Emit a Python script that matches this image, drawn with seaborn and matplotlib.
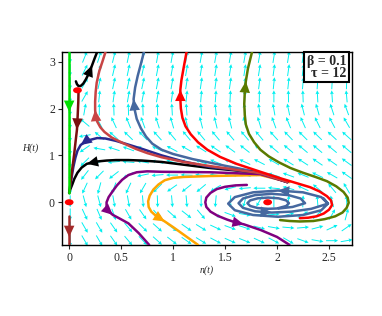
import matplotlib
matplotlib.use('Agg')
import matplotlib.pyplot as plt
from matplotlib.path import Path
from matplotlib.transforms import Affine2D
import numpy as np
import pandas as pd
import seaborn as sns

# direction field: grid positions and arrow angles (screen degrees)
field_n = [0.01, 0.15, 0.29, 0.43, 0.57, 0.71, 0.85, 0.99, 1.13, 1.27,
           1.41, 1.55, 1.69, 1.83, 1.97, 2.11, 2.25, 2.39, 2.53, 2.67]
field_H = [3.10, 2.82, 2.54, 2.26, 1.98, 1.70, 1.42, 1.14, 0.86, 0.58,
           0.30, 0.02, -0.26, -0.54, -0.82]
field_angle = [
    [270, 68, 72, 76, 78, 79, 80, 80, 80, 80, 80, 80, 80, 80, 81, 81, 82, 82, 83, 83],
    [270, 64, 73, 77, 78, 78, 79, 80, 80, 81, 81, 81, 81, 81, 82, 82, 83, 83, 84, 84],
    [270, 60, 77, 78, 78, 78, 79, 80, 81, 82, 82, 82, 83, 83, 84, 84, 85, 86, 87, 88],
    [270, 60, 84, 82, 80, 79, 80, 82, 84, 85, 86, 87, 88, 89, 90, 91, 92, 93, 94, 95],
    [270, 80, 90, 92, 92, 92, 92, 93, 94, 95, 96, 97, 98, 99, 100, 102, 104, 106, 108, 110],
    [270, 140, 118, 115, 112, 110, 108, 106, 104, 104, 104, 104, 105, 107, 110, 112, 114, 116, 118, 120],
    [270, 190, 140, 138, 136, 134, 132, 130, 130, 130, 130, 130, 130, 130, 132, 134, 135, 136, 137, 138],
    [270, 215, 170, 162, 160, 158, 156, 152, 150, 148, 146, 144, 142, 140, 140, 140, 140, 140, 140, 140],
    [270, 225, 195, 185, 175, 170, 166, 164, 162, 160, 158, 156, 155, 153, 150, 148, 147, 146, 145, 144],
    [270, 232, 225, 218, 208, 192, 185, 180, 178, 175, 172, 170, 168, 166, 163, 160, 158, 155, 150, 145],
    [270, 245, 255, 250, 245, 240, 225, 215, 218, 220, 210, 195, 185, 180, 175, 165, 155, 140, 130, 120],
    [270, 285, 285, 280, 280, 275, 272, 275, 275, 270, 265, 265, 255, 240, 90, 85, 88, 95, 105, 95],
    [270, 295, 293, 290, 300, 305, 312, 318, 322, 310, 330, 340, 350, 0, 5, 15, 30, 45, 60, 75],
    [270, 300, 300, 305, 310, 315, 318, 322, 325, 328, 335, 340, 342, 345, 350, 355, 5, 15, 25, 35],
    [270, 300, 300, 305, 310, 313, 318, 322, 325, 328, 332, 336, 338, 335, 332, 330, 340, 350, 0, 10],
]

# trajectories (n, H) in direction of travel
green_n = [0.0, 0.0, 0.0]
green_H = [3.21, 1.93, 0.2]
brown_n = [0.0, 0.0, 0.0]
brown_H = [-0.3, -0.74, -0.91]
maroon_n = [0.09, 0.088, 0.082, 0.075, 0.062, 0.048, 0.032, 0.018, 0.007, 0.0]
maroon_H = [2.36, 2.15, 1.85, 1.55, 1.3, 1.02, 0.75, 0.5, 0.3, 0.2]
hook_n = [0.065, 0.075, 0.09, 0.11, 0.135, 0.16, 0.19, 0.22, 0.245, 0.27]
hook_H = [2.58, 2.52, 2.48, 2.48, 2.53, 2.62, 2.75, 2.92, 3.07, 3.21]
indred_n = [2.1, 1.84, 1.36, 1.1, 0.89, 0.75, 0.64, 0.52, 0.41, 0.34, 0.3, 0.27, 0.255,
            0.25, 0.25, 0.255, 0.265, 0.29, 0.32, 0.35]
indred_H = [0.43, 0.62, 0.77, 0.86, 0.96, 1.05, 1.14, 1.26, 1.38, 1.5, 1.6, 1.72, 1.84,
            1.97, 2.15, 2.35, 2.55, 2.8, 3.0, 3.21]
navy_n = [2.1, 1.84, 1.36, 1.1, 0.89, 0.7, 0.57, 0.45, 0.35, 0.27, 0.2, 0.14, 0.11, 0.08,
          0.06, 0.04, 0.025, 0.012, 0.0]
navy_H = [0.43, 0.63, 0.75, 0.87, 1.0, 1.14, 1.23, 1.31, 1.36, 1.37, 1.33, 1.27, 1.22, 1.1,
          0.95, 0.75, 0.55, 0.37, 0.2]
black_n = [2.1, 1.84, 1.36, 0.89, 0.7, 0.57, 0.45, 0.36, 0.27, 0.17, 0.12, 0.08, 0.05,
           0.03, 0.01, 0.0]
black_H = [0.43, 0.63, 0.73, 0.86, 0.89, 0.9, 0.9, 0.89, 0.87, 0.82, 0.74, 0.63, 0.5,
           0.38, 0.27, 0.2]
steel_n = [2.1, 1.84, 1.52, 1.19, 1.0, 0.89, 0.8, 0.74, 0.69, 0.65, 0.63, 0.62, 0.635,
           0.66, 0.69, 0.72]
steel_H = [0.43, 0.63, 0.77, 0.92, 1.03, 1.12, 1.25, 1.4, 1.58, 1.78, 1.98, 2.2, 2.45,
           2.7, 2.95, 3.21]
red_n = [2.22, 2.3, 2.38, 2.45, 2.5, 2.53, 2.52, 2.48, 2.41, 2.32, 2.2, 2.05, 1.84, 1.61,
         1.45, 1.33, 1.24, 1.17, 1.12, 1.09, 1.075, 1.07, 1.07, 1.08, 1.1, 1.13]
red_H = [-0.34, -0.33, -0.3, -0.24, -0.16, -0.06, 0.04, 0.13, 0.23, 0.32, 0.4, 0.5, 0.65,
         0.82, 0.97, 1.12, 1.28, 1.45, 1.62, 1.8, 2.0, 2.2, 2.4, 2.6, 2.85, 3.21]
olive_n = [2.03, 2.12, 2.22, 2.35, 2.46, 2.56, 2.63, 2.67, 2.69, 2.68, 2.64, 2.57, 2.48,
           2.37, 2.25, 2.13, 2.02, 1.92, 1.84, 1.78, 1.73, 1.7, 1.69, 1.685, 1.69, 1.7,
           1.72, 1.76]
olive_H = [-0.38, -0.4, -0.41, -0.4, -0.36, -0.3, -0.22, -0.12, -0.01, 0.1, 0.22, 0.34,
           0.45, 0.54, 0.63, 0.73, 0.85, 0.98, 1.12, 1.28, 1.46, 1.66, 1.86, 2.1, 2.35,
           2.58, 2.85, 3.21]
purple_n = [2.1, 1.84, 1.36, 0.89, 0.75, 0.65, 0.57, 0.51, 0.46, 0.42, 0.38, 0.36, 0.36,
            0.38, 0.42, 0.48, 0.57, 0.67, 0.77]
purple_H = [0.43, 0.6, 0.64, 0.65, 0.66, 0.64, 0.58, 0.48, 0.36, 0.24, 0.11, 0.0, -0.1,
            -0.19, -0.27, -0.34, -0.45, -0.66, -0.91]
orange_n = [2.12, 1.84, 1.36, 1.1, 1.0, 0.92, 0.86, 0.81, 0.775, 0.76, 0.765, 0.79, 0.84,
            0.92, 1.0, 1.12, 1.24]
orange_H = [0.43, 0.58, 0.56, 0.54, 0.52, 0.47, 0.38, 0.27, 0.14, 0.02, -0.1, -0.2, -0.3,
            -0.41, -0.53, -0.72, -0.91]
purple2_n = [1.71, 1.6, 1.5, 1.42, 1.36, 1.32, 1.31, 1.32, 1.36, 1.43, 1.52, 1.6, 1.68,
             1.84, 2.0, 2.12]
purple2_H = [0.37, 0.36, 0.33, 0.28, 0.2, 0.1, 0.0, -0.1, -0.2, -0.29, -0.37, -0.43, -0.47,
             -0.59, -0.74, -0.91]
spiral_n = [2.015, 2.088, 2.115, 2.088, 2.015, 1.915, 1.815, 1.742, 1.715, 1.742, 1.815,
            1.915, 2.03, 2.15, 2.27, 2.227, 2.11, 1.95, 1.79, 1.673, 1.63, 1.673, 1.79,
            1.95, 2.14, 2.33, 2.49, 2.426, 2.25, 2.01, 1.77, 1.594, 1.53, 1.594, 1.77,
            2.01, 2.25, 2.426, 2.49, 2.45]
spiral_H = [-0.124, -0.08, -0.02, 0.04, 0.084, 0.1, 0.084, 0.04, -0.02, -0.08, -0.124,
            -0.14, -0.13, -0.1, -0.02, 0.08, 0.153, 0.18, 0.153, 0.08, -0.02, -0.12, -0.193,
            -0.22, -0.2, -0.14, -0.03, 0.11, 0.212, 0.25, 0.212, 0.11, -0.03, -0.17, -0.272,
            -0.31, -0.272, -0.17, -0.03, 0.08]

# equilibrium points
eq_n = [0.0, 0.08, 1.91]
eq_H = [0.0, 2.39, 0.0]

# (n, H, colour, indices of arrowheads)
curves = [
    (steel_n, steel_H, '#46689f', [11]),
    (spiral_n, spiral_H, '#46689f', [23, 29]),
    (orange_n, orange_H, '#ffa500', [13]),
    (purple_n, purple_H, '#800080', [14]),
    (purple2_n, purple2_H, '#800080', [12]),
    (black_n, black_H, '#000000', [9]),
    (navy_n, navy_H, '#28288f', [12]),
    (indred_n, indred_H, '#c84444', [13]),
    (olive_n, olive_H, '#5a7a00', [25]),
    (red_n, red_H, '#ff0000', [22]),
    (maroon_n, maroon_H, '#7a1010', [3]),
    (hook_n, hook_H, '#000000', [7]),
    (green_n, green_H, '#00e000', [1]),
    (brown_n, brown_H, '#a52a2a', [1]),
]

sns.set_style('ticks')
plt.rcParams['font.family'] = 'Liberation Serif'

fig = plt.figure(figsize=(3.82, 3.16), dpi=100)
ax = fig.add_axes([0.162, 0.225, 0.759, 0.611])

N, HH = np.meshgrid(field_n, field_H)
ang = np.radians(np.array(field_angle, dtype=float))
ax.quiver(N, HH, np.cos(ang), np.sin(ang), angles='uv', pivot='middle',
          color='#00f0f0', scale=1 / 0.12, scale_units='inches', width=0.0033,
          headwidth=4, headlength=4, headaxislength=3.5, zorder=1)

for xs, ys, c, marks in curves:
    df = pd.DataFrame({'n': xs, 'H': ys})
    sns.lineplot(data=df, x='n', y='H', sort=False, estimator=None, color=c,
                 lw=1.8, ax=ax, zorder=3)
    for i in marks:
        ax.annotate('', xy=(xs[i], ys[i]), xytext=(xs[i - 1], ys[i - 1]),
                    arrowprops=dict(arrowstyle='-|>,head_length=0.9,head_width=0.42',
                                    mutation_scale=9, color=c, lw=0,
                                    shrinkA=0, shrinkB=0), zorder=4)

ell = Path.unit_circle().transformed(Affine2D().scale(1.45, 1.0))
sns.scatterplot(x=eq_n, y=eq_H, marker=ell, s=40, color='red', edgecolor='none',
                ax=ax, zorder=5)

ax.set_xlim(-0.07, 2.72)
ax.set_ylim(-0.91, 3.21)
ax.set_xticks([0, 0.5, 1, 1.5, 2, 2.5])
ax.set_xticklabels(['0', '0.5', '1', '1.5', '2', '2.5'])
ax.set_yticks([0, 1, 2, 3])
ax.set_yticklabels(['0', '1', '2', '3'])
ax.tick_params(labelsize=8.5, length=3, width=0.8, pad=2)
for s in ax.spines.values():
    s.set_linewidth(1.0)
    s.set_color('black')

ax.set_xlabel('n(t)', fontsize=7, style='italic', labelpad=1)
ax.set_ylabel('H(t)', fontsize=7, style='italic', rotation=0, ha='center', va='center')
ax.yaxis.set_label_coords(-0.11, 0.5)

ax.text(0.982, 0.985, 'β = 0.1\nτ = 12', transform=ax.transAxes, ha='right', va='top',
        fontsize=10, fontweight='bold', linespacing=0.9, multialignment='right',
        bbox=dict(boxstyle='square,pad=0.2', fc='white', ec='black', lw=1.5), zorder=6)

fig.savefig('out.png', dpi=100)
